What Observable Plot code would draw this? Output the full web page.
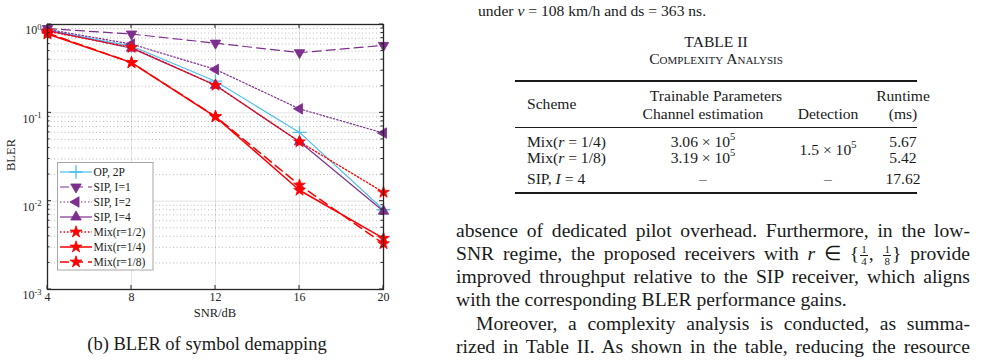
<!DOCTYPE html>
<html><head><meta charset="utf-8">
<script src="https://cdn.jsdelivr.net/npm/d3@7"></script>
<script src="https://cdn.jsdelivr.net/npm/@observablehq/plot@0.6"></script>
<style>
html,body{margin:0;padding:0;background:#fff}
body{width:990px;height:364px;overflow:hidden;position:relative;font-family:"Liberation Serif","Times New Roman",serif;color:#1a1a1a}
.a{position:absolute;white-space:nowrap;line-height:1}
.c{transform:translate(-50%,-50%)}
.l{transform:translateY(-50%)}
.rule{position:absolute;background:#1a1a1a}
.body{position:absolute;font-size:19.6px;line-height:23px;text-align:justify;text-align-last:justify;white-space:nowrap}
.frac{display:inline-flex;flex-direction:column;align-items:center;vertical-align:middle;font-size:11px;line-height:11px;margin:0 1px}
.frac span:first-child{border-bottom:1px solid #1a1a1a;padding:0 1px}
.tb{font-size:15.6px}
sup{font-size:10.5px;vertical-align:0;position:relative;top:-7px}
</style></head><body>
<div id="chart" style="position:absolute;left:0;top:0"></div>
<div class="a" style="left:11px;top:155px;font-size:12.5px;transform:translate(-50%,-50%) rotate(-90deg)">BLER</div>
<div class="a c" style="left:215px;top:313px;font-size:12.5px">SNR/dB</div>
<div class="a c" style="left:207px;top:344px;font-size:18.5px">(b) BLER of symbol demapping</div>

<div class="a l" style="left:478px;top:11px;font-size:15.6px">under <i>v</i> = 108 km/h and ds = 363 ns.</div>
<div class="a c" style="left:716px;top:42px;font-size:15.6px">TABLE II</div>
<div class="a c" style="left:716px;top:59px;font-size:15.6px;font-variant:small-caps">Complexity Analysis</div>
<div class="rule" style="left:515px;width:402px;top:80px;height:1.5px"></div>
<div class="a l tb" style="left:527px;top:104px">Scheme</div>
<div class="a c tb" style="left:716px;top:96px">Trainable Parameters</div>
<div class="a c tb" style="left:903px;top:96px">Runtime</div>
<div class="a c tb" style="left:703px;top:114px">Channel estimation</div>
<div class="a c tb" style="left:828px;top:114px">Detection</div>
<div class="a c tb" style="left:903px;top:114px">(ms)</div>
<div class="rule" style="left:515px;width:402px;top:127px;height:1px"></div>
<div class="a l tb" style="left:527px;top:142px">Mix(<i>r</i> = 1/4)</div>
<div class="a c tb" style="left:703px;top:142px">3.06 × 10<sup>5</sup></div>
<div class="a c tb" style="left:903px;top:142px">5.67</div>
<div class="a c tb" style="left:828px;top:150px">1.5 × 10<sup>5</sup></div>
<div class="a l tb" style="left:527px;top:158px">Mix(<i>r</i> = 1/8)</div>
<div class="a c tb" style="left:703px;top:158px">3.19 × 10<sup>5</sup></div>
<div class="a c tb" style="left:903px;top:158px">5.42</div>
<div class="a l tb" style="left:527px;top:179px">SIP, <i>I</i> = 4</div>
<div class="a c tb" style="left:703px;top:179px">–</div>
<div class="a c tb" style="left:828px;top:179px">–</div>
<div class="a c tb" style="left:903px;top:179px">17.62</div>
<div class="rule" style="left:515px;width:402px;top:192px;height:1.5px"></div>

<div class="body" style="left:456px;width:514px;top:219px">absence of dedicated pilot overhead. Furthermore, in the low-</div>
<div class="body" style="left:456px;width:514px;top:242px">SNR regime, the proposed receivers with <i>r</i> ∈ {<span class="frac"><span>1</span><span>4</span></span>, <span class="frac"><span>1</span><span>8</span></span>} provide</div>
<div class="body" style="left:456px;width:514px;top:265px">improved throughput relative to the SIP receiver, which aligns</div>
<div class="body" style="left:456px;width:514px;top:288px;text-align-last:left">with the corresponding BLER performance gains.</div>
<div class="body" style="left:476px;width:494px;top:312px">Moreover, a complexity analysis is conducted, as summa-</div>
<div class="body" style="left:456px;width:514px;top:335px">rized in Table II. As shown in the table, reducing the resource</div>

<script>
// ---- data ----
const snr = [4, 8, 12, 16, 20];
const seriesNames = ["OP, 2P", "SIP, I=1", "SIP, I=2", "SIP, I=4", "Mix(r=1/2)", "Mix(r=1/4)", "Mix(r=1/8)"];
const blerOP2P   = [0.86, 0.57, 0.228, 0.060, 0.0080];
const blerSIP1   = [0.90, 0.78, 0.615, 0.48, 0.58];
const blerSIP2   = [0.88, 0.60, 0.31, 0.111, 0.059];
const blerSIP4   = [0.86, 0.54, 0.205, 0.047, 0.0077];
const blerMix2   = [0.84, 0.55, 0.205, 0.047, 0.0126];
const blerMix4   = [0.78, 0.37, 0.090, 0.0133, 0.0038];
const blerMix8   = [0.80, 0.37, 0.091, 0.0152, 0.0033];
const xTicks = [4, 8, 12, 16, 20];
const yTicks = [1, 0.1, 0.01, 0.001];
const yTickExp = ["0", "-1", "-2", "-3"];

const blerValues = [blerOP2P, blerSIP1, blerSIP2, blerSIP4, blerMix2, blerMix4, blerMix8];
const cyan = "#4dbeee", purple = "#7e2f8e", red = "#ff0000";
const styles = [
  {color: cyan,   dash: null,    symbol: "plus",     rotate: 0,   r: 4.4, sw: 1.2},
  {color: purple, dash: "9,5",   symbol: "triangle", rotate: 180, r: 3.9, sw: 1.2},
  {color: purple, dash: "1.5,2", symbol: "triangle", rotate: -90, r: 3.9, sw: 1.2},
  {color: purple, dash: null,    symbol: "triangle", rotate: 0,   r: 3.9, sw: 1.2},
  {color: red,    dash: "1.5,2", symbol: "star",     rotate: 0,   r: 3.7, sw: 1.3},
  {color: red,    dash: null,    symbol: "star",     rotate: 0,   r: 3.7, sw: 1.5},
  {color: red,    dash: "9,5",   symbol: "star",     rotate: 0,   r: 3.7, sw: 1.5}
];

const rows = seriesNames.map((name, i) => snr.map((s, j) => ({series: name, snr: s, bler: blerValues[i][j]})));
const minorTicks = d3.range(-3, 0).flatMap(k => d3.range(2, 10).map(m => m * Math.pow(10, k)));

const lineMarks = [], dotMarks = [];
rows.forEach((data, i) => {
  const st = styles[i];
  lineMarks.push(Plot.line(data, {x: "snr", y: "bler", stroke: st.color, strokeWidth: st.sw, strokeDasharray: st.dash ?? undefined}));
  const filled = st.symbol !== "plus";
  dotMarks.push(Plot.dot(data, {x: "snr", y: "bler", symbol: st.symbol, r: st.r, rotate: st.rotate,
    fill: filled ? st.color : "none", stroke: st.color, strokeWidth: filled ? 0.8 : 1.3}));
});

const chart = Plot.plot({
  width: 400, height: 325,
  marginLeft: 47, marginRight: 17, marginTop: 24, marginBottom: 36,
  style: {fontFamily: "'Liberation Serif', 'Times New Roman', serif", fontSize: "12px", color: "#262626", background: "transparent", overflow: "visible"},
  x: {domain: [4, 20]},
  y: {type: "log", domain: [1e-3, 1]},
  marks: [
    Plot.gridX(xTicks, {stroke: "#262626", strokeOpacity: 0.13, strokeWidth: 1}),
    Plot.gridY(yTicks, {stroke: "#262626", strokeOpacity: 0.13, strokeWidth: 1}),
    Plot.ruleY(minorTicks, {stroke: "#262626", strokeOpacity: 0.4, strokeWidth: 0.8, strokeDasharray: "1,2.5"}),
    Plot.axisX(xTicks, {tickSize: 0, tickPadding: 3, label: null, fontSize: 12, tickFormat: d => String(d)}),
    Plot.axisY(yTicks, {tickSize: 0, tickPadding: 6, label: null, fontSize: 12, tickFormat: d => "10^" + yTickExp[yTicks.indexOf(d)]}),
    ...lineMarks,
    ...dotMarks,
    Plot.frame({stroke: "#262626", strokeWidth: 1.3})
  ]
});
document.getElementById("chart").appendChild(chart);

const svg = d3.select(chart);
// superscript tick labels for the log axis
svg.selectAll('[aria-label="y-axis tick label"] text').each(function() {
  const t = d3.select(this);
  const parts = t.text().split("^");
  t.text("");
  t.attr("dy", "0.5em");
  t.append("tspan").text(parts[0]);
  t.append("tspan").attr("dy", "-0.55em").attr("font-size", "8.5px").text(parts[1]);
});

// inward MATLAB-style tick marks, placed with the chart's own scales
const sx = chart.scale("x"), sy = chart.scale("y");
const x0 = sx.apply(4), x1 = sx.apply(20), y0 = sy.apply(1e-3), y1 = sy.apply(1);
const tg = svg.append("g").attr("stroke", "#262626").attr("stroke-width", 1);
xTicks.forEach(v => {
  const x = sx.apply(v);
  tg.append("line").attr("x1", x).attr("x2", x).attr("y1", y0).attr("y2", y0 - 4);
  tg.append("line").attr("x1", x).attr("x2", x).attr("y1", y1).attr("y2", y1 + 4);
});
yTicks.forEach(v => {
  const y = sy.apply(v);
  tg.append("line").attr("y1", y).attr("y2", y).attr("x1", x0).attr("x2", x0 + 4);
  tg.append("line").attr("y1", y).attr("y2", y).attr("x1", x1).attr("x2", x1 - 4);
});
minorTicks.forEach(v => {
  const y = sy.apply(v);
  tg.append("line").attr("y1", y).attr("y2", y).attr("x1", x0).attr("x2", x0 + 2.5);
  tg.append("line").attr("y1", y).attr("y2", y).attr("x1", x1).attr("x2", x1 - 2.5);
});

// legend
const lg = svg.append("g").attr("text-anchor", "start");
const lx = 57.5, ly = 162.5, lw = 95.5, lh = 107.5;
lg.append("rect").attr("x", lx).attr("y", ly).attr("width", lw).attr("height", lh)
  .attr("fill", "#fff").attr("stroke", "#a6a6a6").attr("stroke-width", 1);
const symGen = name => d3.symbol(name === "plus" ? d3.symbolPlus : name === "star" ? d3.symbolStar : d3.symbolTriangle);
seriesNames.forEach((name, i) => {
  const st = styles[i];
  const cy = 172 + i * 15;
  lg.append("line").attr("x1", 60).attr("x2", 92).attr("y1", cy).attr("y2", cy)
    .attr("stroke", st.color).attr("stroke-width", st.sw).attr("stroke-dasharray", st.dash);
  const filled = st.symbol !== "plus";
  lg.append("path").attr("d", symGen(st.symbol).size(Math.PI * st.r * st.r)())
    .attr("transform", `translate(76,${cy}) rotate(${st.rotate})`)
    .attr("fill", filled ? st.color : "none").attr("stroke", st.color).attr("stroke-width", filled ? 0.8 : 1.3);
  lg.append("text").attr("x", 93.5).attr("y", cy).attr("dy", "0.35em").attr("text-anchor", "start")
    .attr("font-size", "11.5px").attr("fill", "#1a1a1a").text(name);
});
</script>
</body></html>
